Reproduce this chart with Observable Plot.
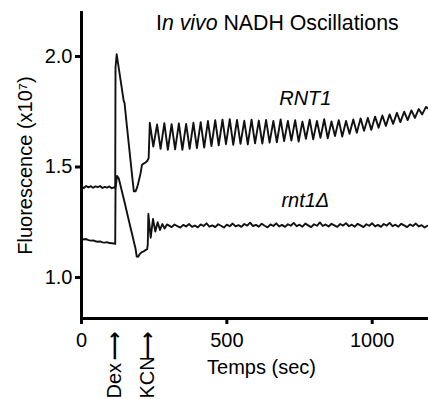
<!DOCTYPE html>
<html><head><meta charset="utf-8">
<script src="https://cdn.jsdelivr.net/npm/d3@7"></script>
<script src="https://cdn.jsdelivr.net/npm/@observablehq/plot@0.6"></script>
<style>
body{margin:0;background:#fff;}
#chart{width:428px;height:399px;}
</style></head><body><div id="chart"></div>
<script>
// ---- data ----
const seriesNames = ["RNT1", "rnt1Δ"];

const rnt1Time = [0,8,16,24,32,40,48,56,64,72,80,88,96,104,112,116,117,121,133,145,148,155,165,175,180,186,192,197,203,208,214,220,226,231,
235,247,260,272,285,297,310,322,335,347,360,372,385,397,410,422,435,447,460,472,485,497,510,522,535,547,560,572,585,597,610,622,635,647,660,672,685,697,710,722,735,747,760,772,785,797,810,822,835,847,860,872,885,897,910,922,935,947,960,972,985,997,1010,1022,1035,1047,1060,1072,1085,1097,1110,1122,1135,1147,1160,1172,1185,1192];
const rnt1Value = [1.412,1.405,1.414,1.408,1.413,1.406,1.412,1.409,1.414,1.405,1.410,1.407,1.412,1.404,1.408,1.405,1.95,2.01,1.905,1.80,1.79,1.70,1.575,1.45,1.39,1.39,1.41,1.437,1.47,1.51,1.515,1.52,1.527,1.54,
1.700,1.592,1.692,1.582,1.698,1.578,1.694,1.580,1.697,1.578,1.695,1.582,1.700,1.585,1.703,1.588,1.708,1.595,1.712,1.598,1.714,1.603,1.716,1.600,1.713,1.605,1.709,1.602,1.714,1.607,1.710,1.606,1.713,1.610,1.708,1.612,1.715,1.617,1.708,1.620,1.712,1.615,1.705,1.628,1.714,1.625,1.708,1.632,1.716,1.630,1.706,1.640,1.712,1.638,1.708,1.650,1.715,1.655,1.720,1.664,1.722,1.668,1.728,1.678,1.733,1.686,1.738,1.695,1.745,1.703,1.750,1.712,1.756,1.722,1.762,1.738,1.772,1.765];

const deltaTime = [0,8,16,24,32,40,48,56,64,72,80,88,96,104,112,116,117,122,128,140,150,160,170,180,186,190,195,201,208,214,220,226,228,230,238,246,254,262,270,278,286,294,
300,310,320,330,340,350,360,370,380,390,400,410,420,430,440,450,460,470,480,490,500,510,520,530,540,550,560,570,580,590,600,610,620,630,640,650,660,670,680,690,700,710,720,730,740,750,760,770,780,790,800,810,820,830,840,850,860,870,880,890,900,910,920,930,940,950,960,970,980,990,1000,1010,1020,1030,1040,1050,1060,1070,1080,1090,1100,1110,1120,1130,1140,1150,1160,1170,1180,1190];
const deltaValue = [1.176,1.172,1.174,1.169,1.167,1.168,1.164,1.162,1.163,1.159,1.158,1.160,1.156,1.155,1.154,1.152,1.40,1.46,1.449,1.385,1.33,1.274,1.218,1.163,1.13,1.095,1.094,1.107,1.115,1.118,1.124,1.128,1.15,1.288,1.18,1.265,1.208,1.25,1.215,1.242,1.222,1.24,
1.236,1.228,1.240,1.232,1.226,1.238,1.231,1.242,1.229,1.235,1.227,1.240,1.233,1.245,1.230,1.236,1.228,1.241,1.234,1.226,1.239,1.232,1.244,1.231,1.237,1.229,1.242,1.235,1.248,1.233,1.238,1.230,1.243,1.234,1.227,1.240,1.233,1.245,1.231,1.238,1.229,1.241,1.234,1.247,1.232,1.239,1.230,1.244,1.236,1.228,1.241,1.234,1.249,1.233,1.240,1.231,1.243,1.236,1.229,1.242,1.235,1.246,1.232,1.239,1.230,1.243,1.236,1.228,1.241,1.234,1.245,1.231,1.238,1.229,1.242,1.235,1.247,1.232,1.239,1.230,1.243,1.236,1.228,1.240,1.233,1.244,1.231,1.237,1.226,1.234];

const eventNames = ["Dex", "KCN"];
const eventTimes = [115, 229];
const xTicks = [0, 500, 1000];
const yTicks = [1.0, 1.5, 2.0];
const titleParts = [["I", "normal"], ["n vivo", "italic"], [" NADH Oscillations", "normal"]];
const yLabel = "Fluorescence (x10\u2077)";
const xLabel = "Temps (sec)";
const labelTime = 770;

// ---- build ----
const rnt1 = rnt1Time.map((t, i) => ({t, v: rnt1Value[i]}));
const delta = deltaTime.map((t, i) => ({t, v: deltaValue[i]}));
const near = (arr) => d3.max(arr.filter(d => Math.abs(d.t - labelTime) <= 20), d => d.v);
const font = "'Liberation Sans', Arial, Helvetica, sans-serif";

const chart = Plot.plot({
  width: 428, height: 399,
  marginLeft: 81, marginRight: 0, marginTop: 12, marginBottom: 81,
  x: {domain: [0, 1193.7]},
  y: {domain: [0.8145, 2.199]},
  style: {fontFamily: font, fontSize: "20px", background: "#fff", color: "#000"},
  marks: [
    Plot.line(rnt1, {x: "t", y: "v", stroke: "#111", strokeWidth: 1.9, strokeLinejoin: "round"}),
    Plot.line(delta, {x: "t", y: "v", stroke: "#111", strokeWidth: 1.9, strokeLinejoin: "round"}),
    Plot.frame({anchor: "left", strokeWidth: 3}),
    Plot.frame({anchor: "bottom", strokeWidth: 3}),
    Plot.axisY({ticks: yTicks, tickFormat: ".1f", tickSize: 6, tickPadding: 3, strokeWidth: 3, fontSize: 20, label: null}),
    Plot.axisX({ticks: xTicks, tickFormat: "d", tickSize: 6, tickPadding: 8, strokeWidth: 3, fontSize: 20, label: null}),
    Plot.text([yLabel], {text: d => d, frameAnchor: "left", rotate: -90, dx: -56, fontSize: 20, textAnchor: "middle", lineAnchor: "middle"}),
    Plot.text([xLabel], {text: d => d, frameAnchor: "bottom", dx: 6.5, dy: 55, fontSize: 20, textAnchor: "middle", lineAnchor: "bottom"}),
    Plot.text([seriesNames[0]], {text: d => d, x: labelTime, y: near(rnt1), dy: -15, fontSize: 20, fontStyle: "italic", lineAnchor: "bottom"}),
    Plot.text([seriesNames[1]], {text: d => d, x: labelTime, y: near(delta), dy: -17, fontSize: 20, fontStyle: "italic", lineAnchor: "bottom"}),
    Plot.text(eventTimes, {x: d => d, text: (d, i) => eventNames[i], frameAnchor: "bottom", rotate: -90, textAnchor: "start", lineAnchor: "middle", dy: 80, fontSize: 20}),
    Plot.text(eventTimes, {x: d => d, text: () => "\u27F6", frameAnchor: "bottom", rotate: -90, textAnchor: "end", lineAnchor: "middle", dy: 13, fontSize: 20, fontWeight: "bold", fontFamily: "DejaVu Sans"})
  ]
});

const title = d3.select(chart).append("text")
  .attr("x", 156).attr("y", 30).attr("text-anchor", "start")
  .attr("font-size", 21.3).attr("font-family", font).attr("fill", "#000");
titleParts.forEach(([s, st]) => title.append("tspan").attr("font-style", st).text(s));

document.getElementById("chart").appendChild(chart);
</script></body></html>
